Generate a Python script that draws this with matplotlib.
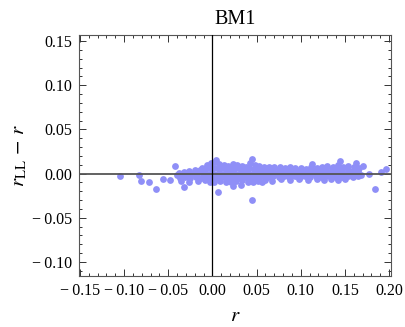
import matplotlib
matplotlib.use("Agg")
import matplotlib.pyplot as plt
from matplotlib.ticker import MultipleLocator, FuncFormatter

plt.rcParams['font.family'] = ['Liberation Serif', 'DejaVu Serif']
plt.rcParams['mathtext.fontset'] = 'stix'

# band of points
top_x = [-0.012, -0.006, -0.002, 0.003, 0.008, 0.013, 0.018, 0.023, 0.028, 0.033, 0.038, 0.043,
         0.048, 0.053, 0.058, 0.064, 0.070, 0.076, 0.082, 0.088, 0.094, 0.100, 0.106, 0.112,
         0.118, 0.124, 0.130, 0.136, 0.142, 0.148, 0.154, 0.160, 0.166]
top_y = [0.006, 0.010, 0.012, 0.013, 0.011, 0.010, 0.009, 0.011, 0.010, 0.009, 0.008, 0.012,
         0.010, 0.009, 0.008, 0.008, 0.007, 0.008, 0.006, 0.007, 0.006, 0.006, 0.005, 0.007,
         0.006, 0.008, 0.009, 0.007, 0.010, 0.008, 0.009, 0.007, 0.006]

upper_x = [-0.038, -0.032, -0.026, -0.020, -0.014, -0.008, -0.003, 0.002, 0.007, 0.012, 0.017,
           0.022, 0.027, 0.032, 0.037, 0.042, 0.047, 0.052, 0.057, 0.063, 0.069, 0.075, 0.081,
           0.087, 0.093, 0.099, 0.105, 0.111, 0.117, 0.123, 0.129, 0.135, 0.141, 0.147, 0.153,
           0.159, 0.165]
upper_y = [0.001, 0.002, 0.003, 0.004, 0.004, 0.005, 0.006, 0.006, 0.005, 0.006, 0.004,
           0.005, 0.006, 0.004, 0.005, 0.006, 0.005, 0.004, 0.005, 0.004, 0.003, 0.004, 0.003,
           0.004, 0.003, 0.004, 0.003, 0.003, 0.004, 0.003, 0.004, 0.005, 0.004, 0.005, 0.004,
           0.003, 0.003]

mid_x = [-0.040, -0.035, -0.029, -0.023, -0.017, -0.011, -0.005, 0.000, 0.005, 0.010, 0.015,
         0.020, 0.025, 0.030, 0.035, 0.040, 0.045, 0.050, 0.055, 0.060, 0.066, 0.072, 0.078,
         0.084, 0.090, 0.096, 0.102, 0.108, 0.114, 0.120, 0.126, 0.132, 0.138, 0.144, 0.150,
         0.156, 0.162, 0.168]
mid_y = [-0.002, -0.001, 0.000, -0.001, 0.000, 0.001, 0.000, 0.001, 0.000, -0.001, 0.001,
         0.000, 0.001, -0.001, 0.000, 0.001, 0.000, -0.001, 0.000, 0.001, 0.000, -0.001, 0.000,
         0.001, 0.000, -0.001, 0.000, 0.000, 0.001, -0.001, 0.000, 0.001, 0.000, -0.001, 0.000,
         0.001, -0.001, -0.002]

lower_x = [-0.037, -0.031, -0.025, -0.019, -0.013, -0.007, -0.002, 0.003, 0.008, 0.013, 0.018,
           0.023, 0.028, 0.033, 0.038, 0.043, 0.048, 0.053, 0.058, 0.063, 0.069, 0.075, 0.081,
           0.087, 0.093, 0.099, 0.105, 0.111, 0.117, 0.123, 0.129, 0.135, 0.141, 0.147, 0.153,
           0.159, 0.165]
lower_y = [-0.005, -0.004, -0.005, -0.004, -0.005, -0.004, -0.005, -0.004, -0.005, -0.004, -0.005,
           -0.004, -0.005, -0.004, -0.004, -0.005, -0.004, -0.004, -0.003, -0.004, -0.003, -0.004,
           -0.003, -0.004, -0.003, -0.004, -0.003, -0.004, -0.003, -0.004, -0.003, -0.004, -0.005,
           -0.004, -0.003, -0.004, -0.003]

bottom_x = [-0.036, -0.027, -0.016, -0.008, -0.003, 0.002, 0.009, 0.015, 0.021, 0.027, 0.034,
            0.040, 0.046, 0.052, 0.060, 0.068, 0.078, 0.088, 0.098, 0.108, 0.118, 0.126, 0.134,
            0.142, 0.150]
bottom_y = [-0.008, -0.009, -0.008, -0.007, -0.009, -0.010, -0.008, -0.009, -0.010, -0.008, -0.007,
            -0.010, -0.009, -0.008, -0.007, -0.008, -0.006, -0.007, -0.006, -0.007, -0.006, -0.007,
            -0.006, -0.007, -0.006]

# isolated points
out_x = [-0.1045, -0.0827, -0.081, -0.0714, -0.0635, -0.056, -0.048, -0.042, -0.032, 0.006,
         0.0447, 0.184, 0.191, 0.196, 0.177, 0.0045, 0.045, 0.145, 0.113, 0.163, 0.170,
         0.023, 0.032, 0.056]
out_y = [-0.003, -0.0015, -0.0087, -0.0095, -0.018, -0.006, -0.0068, 0.0087, -0.015, -0.021,
         -0.030, -0.018, 0.0015, 0.005, 0.000, 0.0155, 0.017, 0.014, 0.011, 0.012, 0.0083,
         -0.0144, -0.013, -0.009]

xs = top_x + upper_x + mid_x + lower_x + bottom_x + out_x
ys = top_y + upper_y + mid_y + lower_y + bottom_y + out_y


def fmt(v, pos):
    s = '%.2f' % abs(v)
    if v < -1e-9:
        return '\u2212\u2009' + s
    return s


fig = plt.figure(figsize=(4.05, 3.27), dpi=100)
ax = fig.add_axes([0.195, 0.156, 0.77, 0.737])

ax.scatter(xs, ys, s=24, color='#8f8ff7', linewidths=0, zorder=2)
ax.axhline(0, color='#555555', lw=1.3, zorder=3)
ax.axvline(0, color='black', lw=0.9, zorder=3)

ax.set_xlim(-0.151, 0.202)
ax.set_ylim(-0.116, 0.157)
ax.xaxis.set_major_locator(MultipleLocator(0.05))
ax.xaxis.set_minor_locator(MultipleLocator(0.01))
ax.yaxis.set_major_locator(MultipleLocator(0.05))
ax.yaxis.set_minor_locator(MultipleLocator(0.01))
ax.xaxis.set_major_formatter(FuncFormatter(fmt))
ax.yaxis.set_major_formatter(FuncFormatter(fmt))
ax.tick_params(which='both', direction='in', top=True, right=True, color='#333333',
               width=0.7, labelsize=11.5, pad=5)
ax.tick_params(which='major', length=5)
ax.tick_params(which='minor', length=2.5)
for sp in ax.spines.values():
    sp.set_color('#555555')
    sp.set_linewidth(0.8)

ax.set_title('BM1', fontsize=14.5, pad=8)
ax.set_xlabel(r'$r$', fontsize=15, labelpad=6)
ax.set_ylabel(r'$r_{\mathrm{LL}}\,-\,r$', fontsize=15, labelpad=2)

fig.savefig('out.png', dpi=100)
